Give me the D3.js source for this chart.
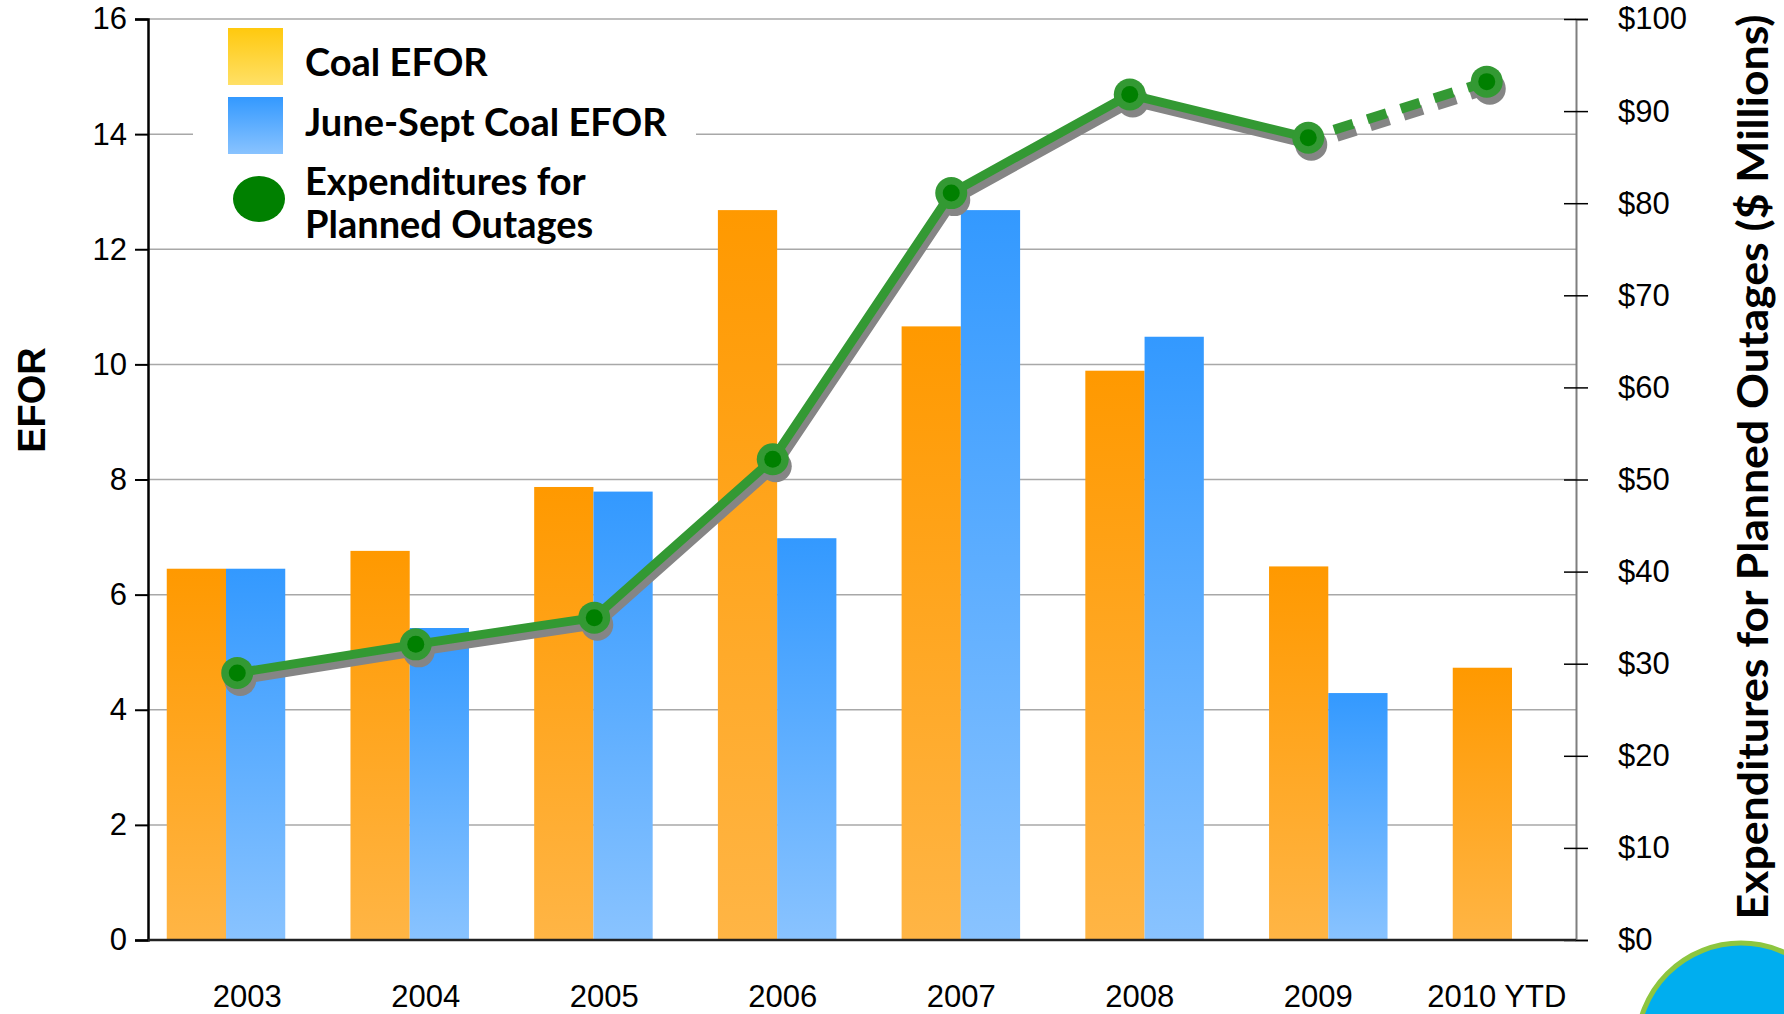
<!DOCTYPE html>
<html>
<head>
<meta charset="utf-8">
<script src="https://cdn.jsdelivr.net/npm/d3@7"></script>
<style>
  html, body { margin: 0; padding: 0; background: #fff; }
  svg { display: block; }
</style>
</head>
<body>
<div id="chart"></div>
<script>
var width = 1784,
    height = 1014

// data
const years = ['2003', '2004', '2005', '2006', '2007', '2008', '2009', '2010 YTD']
const coalEfor = [6.45, 6.76, 7.87, 12.68, 10.66, 9.89, 6.49, 4.73]
const summerEfor = [6.45, 5.42, 7.79, 6.98, 12.68, 10.48, 4.29, null]
const outageSpend = [29.0, 32.1, 35.0, 52.2, 81.1, 91.8, 87.1, 93.2]
const leftTicks = [0, 2, 4, 6, 8, 10, 12, 14, 16]
const rightTicks = [0, 10, 20, 30, 40, 50, 60, 70, 80, 90, 100]

const plot = { left: 148, right: 1576, top: 19, bottom: 940 }

var svg = d3.select('#chart')
  .append('svg')
  .attr('width', width)
  .attr('height', height)

const defs = svg.append('defs')
function grad(id, top, bottom) {
  const g = defs.append('linearGradient').attr('id', id)
    .attr('x1', 0).attr('y1', 0).attr('x2', 0).attr('y2', 1)
  g.append('stop').attr('offset', '0%').attr('stop-color', top)
  g.append('stop').attr('offset', '100%').attr('stop-color', bottom)
}
grad('gOrange', '#ff9900', '#ffb545')
grad('gBlue', '#3399ff', '#89c3ff')
grad('gYellow', '#ffc90e', '#ffe066')

const yL = d3.scaleLinear().domain([0, 16]).range([plot.bottom, plot.top])
const yR = d3.scaleLinear().domain([0, 100]).range([plot.bottom, plot.top])

// line sits on even bands, bars are spread slightly wider
const xLine = d3.scaleBand().domain(years).range([plot.left, plot.right])
const xBar = d3.scalePoint().domain(years).range([226, 1512])
const groupW = xBar.step() * 0.645
const xSub = d3.scaleBand().domain(['coal', 'summer']).range([-groupW / 2, groupW / 2])

// gridlines
svg.append('g')
  .selectAll('line')
  .data(leftTicks.filter(d => d > 0))
  .enter().append('line')
  .attr('x1', plot.left).attr('x2', plot.right)
  .attr('y1', d => yL(d)).attr('y2', d => yL(d))
  .attr('stroke', '#a8a8a8')
  .attr('stroke-width', 1.5)

// bars
const barData = []
years.forEach(function (yr, i) {
  barData.push({ year: yr, key: 'coal', v: coalEfor[i] })
  if (summerEfor[i] != null) barData.push({ year: yr, key: 'summer', v: summerEfor[i] })
})

svg.append('g')
  .selectAll('rect')
  .data(barData)
  .enter().append('rect')
  .attr('x', d => xBar(d.year) + xSub(d.key))
  .attr('width', xSub.bandwidth())
  .attr('y', d => yL(d.v))
  .attr('height', d => yL(0) - yL(d.v))
  .attr('fill', d => d.key === 'coal' ? 'url(#gOrange)' : 'url(#gBlue)')

// legend
const legend = svg.append('g')
legend.append('rect')
  .attr('x', 193).attr('y', 24).attr('width', 503).attr('height', 222)
  .attr('fill', '#fff')
legend.append('rect')
  .attr('x', 228).attr('y', 28).attr('width', 55).attr('height', 57)
  .attr('fill', 'url(#gYellow)')
legend.append('rect')
  .attr('x', 228).attr('y', 97).attr('width', 55).attr('height', 57)
  .attr('fill', 'url(#gBlue)')
legend.append('ellipse')
  .attr('cx', 259).attr('cy', 199).attr('rx', 26).attr('ry', 23)
  .attr('fill', '#008000')

const legendText = [
  { t: 'Coal EFOR', y: 63 },
  { t: 'June-Sept Coal EFOR', y: 123 },
  { t: 'Expenditures for', y: 182 },
  { t: 'Planned Outages', y: 225 }
]
legend.selectAll('text')
  .data(legendText)
  .enter().append('text')
  .attr('x', 305)
  .attr('y', d => d.y)
  .attr('dy', '0.35em')
  .attr('font-family', 'Lato, "Open Sans", sans-serif')
  .attr('font-weight', 700)
  .attr('font-size', 38)
  .attr('fill', '#000')
  .text(d => d.t)

// expenditures line with drop shadow
const pts = years.map((yr, i) => ({ year: yr, v: outageSpend[i] }))
const solid = pts.slice(0, 7)
const dashed = pts.slice(6)
const line = d3.line()
  .x(d => xLine(d.year) + xLine.bandwidth() / 2)
  .y(d => yR(d.v))

const lineG = svg.append('g')
function drawLine(g, dx, dy, color) {
  const s = g.append('g').attr('transform', 'translate(' + dx + ',' + dy + ')')
  s.append('path').attr('d', line(solid))
    .attr('fill', 'none').attr('stroke', color).attr('stroke-width', 9)
    .attr('stroke-linejoin', 'round')
  s.append('path').attr('d', line(dashed))
    .attr('fill', 'none').attr('stroke', color).attr('stroke-width', 10)
    .attr('stroke-dasharray', '20,15').attr('stroke-dashoffset', 8)
  return s
}
const shadow = drawLine(lineG, 3, 7, '#858585')
shadow.selectAll('circle')
  .data(pts)
  .enter().append('circle')
  .attr('cx', d => xLine(d.year) + xLine.bandwidth() / 2)
  .attr('cy', d => yR(d.v))
  .attr('r', 16)
  .attr('fill', '#858585')
drawLine(lineG, 0, 0, '#339933')
lineG.append('g').selectAll('circle')
  .data(pts)
  .enter().append('circle')
  .attr('cx', d => xLine(d.year) + xLine.bandwidth() / 2)
  .attr('cy', d => yR(d.v))
  .attr('r', 16)
  .attr('fill', '#339933')
lineG.append('g').selectAll('circle')
  .data(pts)
  .enter().append('circle')
  .attr('cx', d => xLine(d.year) + xLine.bandwidth() / 2)
  .attr('cy', d => yR(d.v))
  .attr('r', 8.5)
  .attr('fill', '#008000')

// left axis
const leftAxis = svg.append('g')
  .attr('transform', 'translate(' + plot.left + ',0)')
  .call(d3.axisLeft(yL).tickValues(leftTicks).tickSize(13).tickPadding(8).tickFormat(d3.format('d')))
leftAxis.select('.domain').attr('stroke', '#000').attr('stroke-width', 2.5)
leftAxis.selectAll('.tick line').attr('stroke', '#000').attr('stroke-width', 2)
leftAxis.selectAll('text')
  .attr('font-family', '"Liberation Sans", Arial, sans-serif')
  .attr('font-size', 31)
  .attr('fill', '#000')

// right axis
const rightAxis = svg.append('g')
  .attr('transform', 'translate(' + plot.right + ',0)')
  .call(d3.axisRight(yR).tickValues(rightTicks).tickSize(12).tickPadding(30).tickFormat(d => '$' + d))
rightAxis.select('.domain').attr('stroke', '#7f7f7f').attr('stroke-width', 2)
rightAxis.selectAll('.tick line').attr('x1', -12).attr('stroke', '#000').attr('stroke-width', 1.5)
rightAxis.selectAll('text')
  .attr('font-family', '"Liberation Sans", Arial, sans-serif')
  .attr('font-size', 31)
  .attr('fill', '#000')

// zero line
svg.append('line')
  .attr('x1', plot.left).attr('x2', plot.right)
  .attr('y1', yL(0)).attr('y2', yL(0))
  .attr('stroke', '#222').attr('stroke-width', 2.5)

// category labels
const bottomAxis = svg.append('g')
  .attr('transform', 'translate(0,' + plot.bottom + ')')
  .call(d3.axisBottom(xLine).tickSize(0).tickPadding(45))
bottomAxis.select('.domain').remove()
bottomAxis.selectAll('text')
  .attr('dx', 10)
  .attr('font-family', '"Liberation Sans", Arial, sans-serif')
  .attr('font-size', 31)
  .attr('fill', '#000')

// axis titles
svg.append('text')
  .attr('transform', 'translate(45,400)rotate(-90)')
  .attr('text-anchor', 'middle')
  .attr('font-family', '"Liberation Sans", Arial, sans-serif')
  .attr('font-weight', 700)
  .attr('font-size', 38)
  .text('EFOR')

svg.append('text')
  .attr('transform', 'translate(1768,467)rotate(-90)')
  .attr('text-anchor', 'middle')
  .attr('font-family', 'Lato, "Open Sans", sans-serif')
  .attr('font-weight', 700)
  .attr('font-size', 42)
  .attr('textLength', 905)
  .attr('lengthAdjust', 'spacingAndGlyphs')
  .text('Expenditures for Planned Outages ($ Millions)')

// corner badge
svg.append('circle')
  .attr('cx', 1741).attr('cy', 1047).attr('r', 104)
  .attr('fill', '#00aeef')
  .attr('stroke', '#8dc63f').attr('stroke-width', 5)
</script>
</body>
</html>
